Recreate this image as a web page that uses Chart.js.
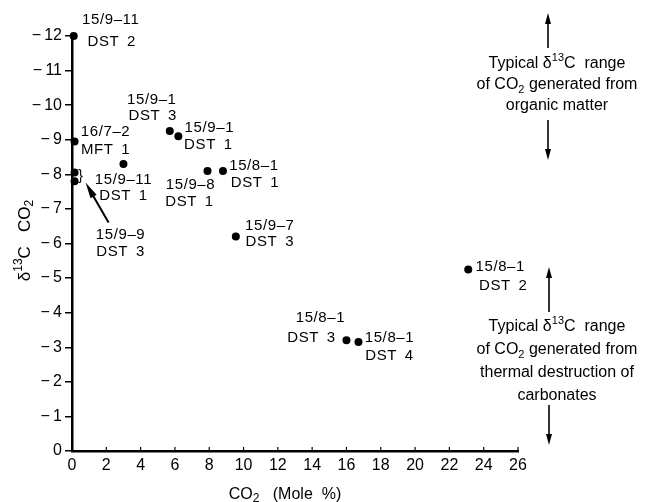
<!DOCTYPE html>
<html>
<head>
<meta charset="utf-8">
<script src="https://cdn.jsdelivr.net/npm/chart.js@4.4.0/dist/chart.umd.min.js"></script>
<style>
  html, body { margin: 0; padding: 0; background: #fff; }
  #wrap { width: 653px; height: 502px; position: relative; }
</style>
</head>
<body>
<div id="wrap"><canvas id="isoChart"></canvas></div>
<script>
// DATA - gas samples (well, test, CO2 mole %, delta 13C of CO2)
const wellNames = ['15/9–11', '16/7–2', '15/9–11', '15/9–9', '15/9–1', '15/9–1', '15/9–8', '15/8–1', '15/9–7', '15/8–1', '15/8–1', '15/8–1'];
const testNames = ['DST 2', 'MFT 1', 'DST 1', 'DST 3', 'DST 3', 'DST 1', 'DST 1', 'DST 1', 'DST 3', 'DST 3', 'DST 4', 'DST 2'];
const co2Mole   = [0.1, 0.15, 3.0, 0.15, 5.7, 6.2, 7.9, 8.8, 9.55, 16.0, 16.7, 23.1];
const delta13C  = [-12.0, -8.95, -8.3, -8.05, -9.25, -9.1, -8.1, -8.1, -6.2, -3.2, -3.15, -5.25];

// second reading of 15/9-9 DST 3 (sits just under the first one)
const repeatCo2   = [0.15];
const repeatDelta = [-7.8];

const xTicks = [0, 2, 4, 6, 8, 10, 12, 14, 16, 18, 20, 22, 24, 26];
const yTicks = [0, -1, -2, -3, -4, -5, -6, -7, -8, -9, -10, -11, -12];

const FONT = '"Liberation Sans", Arial, Helvetica, sans-serif';

// where each label sits relative to its dot: [dx1, dy1, dx2, dy2] (centre of each line)
const labelOffsets = [
    [37, -16, 38, 6],
    [31, -10, 31, 8],
    [0, 16, 0, 32],
    [46, 62, 46, 79],
    [-18, -31, -17, -15],
    [31, -8, 30, 9],
    [-17, 14, -18, 31],
    [31, -5, 32, 12],
    [34, -11, 34, 5],
    [-26, -22, -35, -2],
    [31, -4, 31, 14],
    [32, -3, 35, 16]
];

// draws a line of mixed-size text centred on (cx, cy)
function richText(ctx, parts, cx, cy) {
    let total = 0;
    parts.forEach(p => {
        ctx.font = p.s + 'px ' + FONT;
        p.w = ctx.measureText(p.t).width;
        total += p.w;
    });
    let x = cx - total / 2;
    ctx.textAlign = 'left';
    ctx.textBaseline = 'middle';
    parts.forEach(p => {
        ctx.font = p.s + 'px ' + FONT;
        ctx.fillText(p.t, x, cy + (p.dy || 0));
        x += p.w;
    });
}

function arrow(ctx, x1, y1, x2, y2, len, half) {
    const a = Math.atan2(y2 - y1, x2 - x1);
    ctx.beginPath();
    ctx.moveTo(x1, y1);
    ctx.lineTo(x2 - Math.cos(a) * len * 0.6, y2 - Math.sin(a) * len * 0.6);
    ctx.stroke();
    ctx.beginPath();
    ctx.moveTo(x2, y2);
    ctx.lineTo(x2 - Math.cos(a) * len - Math.sin(a) * half, y2 - Math.sin(a) * len + Math.cos(a) * half);
    ctx.lineTo(x2 - Math.cos(a) * len + Math.sin(a) * half, y2 - Math.sin(a) * len - Math.cos(a) * half);
    ctx.closePath();
    ctx.fill();
}

const sampleLabels = {
    id: 'sampleLabels',
    afterDatasetsDraw(chart) {
        const ctx = chart.ctx;
        const pts = chart.getDatasetMeta(0).data;
        ctx.save();
        ctx.fillStyle = '#000';
        ctx.strokeStyle = '#000';
        ctx.font = '15px ' + FONT;
        ctx.textAlign = 'center';
        ctx.textBaseline = 'middle';
        ctx.letterSpacing = '0.6px';
        ctx.wordSpacing = '3px';
        pts.forEach((p, i) => {
            const o = labelOffsets[i];
            ctx.fillText(wellNames[i], p.x + o[0], p.y + o[1]);
            ctx.fillText(testNames[i], p.x + o[2], p.y + o[3]);
        });
        // 15/9-9 pointer and bracket
        const p = pts[3];
        ctx.letterSpacing = '0px';
        ctx.font = '14px ' + FONT;
        ctx.fillText('}', p.x + 6, p.y + 4);
        ctx.lineWidth = 2;
        arrow(ctx, p.x + 34, p.y + 50, p.x + 11, p.y + 10, 16, 3.5);
        ctx.restore();
    }
};

const axisExtras = {
    id: 'axisExtras',
    afterDraw(chart) {
        const ctx = chart.ctx;
        const area = chart.chartArea;
        const xs = chart.scales.x;
        ctx.save();
        ctx.fillStyle = '#000';
        ctx.strokeStyle = '#000';

        // small inner ticks on the x axis
        ctx.lineWidth = 1.2;
        xTicks.forEach(v => {
            const px = xs.getPixelForValue(v);
            ctx.beginPath();
            ctx.moveTo(px, area.bottom);
            ctx.lineTo(px, area.bottom - 4);
            ctx.stroke();
        });

        // axis titles
        richText(ctx, [
            { t: 'CO', s: 16 },
            { t: '2', s: 12, dy: 4 },
            { t: '   (Mole  %)', s: 16 }
        ], (area.left + area.right) / 2 - 10, 495);

        ctx.save();
        ctx.translate(25, (area.top + area.bottom) / 2 - 3);
        ctx.rotate(-Math.PI / 2);
        richText(ctx, [
            { t: 'δ', s: 17 },
            { t: '13', s: 12, dy: -6 },
            { t: 'C   CO', s: 17 },
            { t: '2', s: 12, dy: 5 }
        ], 0, 0);
        ctx.restore();

        // typical range notes on the right
        const ax = area.right + 30;
        const tx = area.right + 39;
        ctx.lineWidth = 1.6;
        arrow(ctx, ax, 48, ax, 13, 11, 3);
        richText(ctx, [{ t: 'Typical δ', s: 16 }, { t: '13', s: 11, dy: -6 }, { t: 'C  range', s: 16 }], tx, 64);
        richText(ctx, [{ t: 'of CO', s: 16 }, { t: '2', s: 11, dy: 5 }, { t: ' generated from', s: 16 }], tx, 85);
        richText(ctx, [{ t: 'organic matter', s: 16 }], tx, 106);
        arrow(ctx, ax, 120, ax, 160, 11, 3);

        const bx = ax + 1;
        arrow(ctx, bx, 312, bx, 267, 11, 3);
        richText(ctx, [{ t: 'Typical δ', s: 16 }, { t: '13', s: 11, dy: -6 }, { t: 'C  range', s: 16 }], tx, 327);
        richText(ctx, [{ t: 'of CO', s: 16 }, { t: '2', s: 11, dy: 5 }, { t: ' generated from', s: 16 }], tx, 350);
        richText(ctx, [{ t: 'thermal destruction of', s: 16 }], tx, 373);
        richText(ctx, [{ t: 'carbonates', s: 16 }], tx, 396);
        arrow(ctx, bx, 405, bx, 445, 11, 3);
        ctx.restore();
    }
};

const ctx = document.getElementById('isoChart').getContext('2d');
new Chart(ctx, {
    type: 'scatter',
    data: {
        datasets: [
            {
                data: co2Mole.map((v, i) => ({ x: v, y: delta13C[i] })),
                pointRadius: 4,
                pointBackgroundColor: '#000',
                pointBorderWidth: 0,
                clip: false
            },
            {
                data: repeatCo2.map((v, i) => ({ x: v, y: repeatDelta[i] })),
                pointRadius: 4,
                pointBackgroundColor: '#000',
                pointBorderWidth: 0,
                clip: false
            }
        ]
    },
    options: {
        responsive: true,
        maintainAspectRatio: false,
        animation: false,
        layout: { padding: { left: 0, right: 135, top: 36, bottom: 0 } },
        plugins: {
            legend: { display: false },
            tooltip: { enabled: false }
        },
        scales: {
            x: {
                type: 'linear',
                min: 0,
                max: 26,
                afterBuildTicks: s => { s.ticks = xTicks.map(v => ({ value: v })); },
                afterFit: s => { s.height = 51; },
                border: { color: '#000', width: 2.5 },
                grid: { drawOnChartArea: false, drawTicks: false },
                ticks: {
                    color: '#000',
                    font: { family: FONT, size: 16 },
                    padding: 5,
                    maxRotation: 0,
                    autoSkip: false
                }
            },
            y: {
                type: 'linear',
                min: -12,
                max: 0,
                reverse: true,
                afterBuildTicks: s => { s.ticks = yTicks.map(v => ({ value: v })); },
                afterFit: s => { s.width = 72; },
                border: { color: '#000', width: 2.5 },
                grid: { drawOnChartArea: false, drawTicks: true, tickLength: 7, color: '#000', lineWidth: 1.5 },
                ticks: {
                    color: '#000',
                    font: { family: FONT, size: 16 },
                    padding: 3,
                    autoSkip: false,
                    callback: v => v === 0 ? '0' : '\u2212\u2009' + Math.abs(v)
                }
            }
        }
    },
    plugins: [sampleLabels, axisExtras]
});
</script>
</body>
</html>
